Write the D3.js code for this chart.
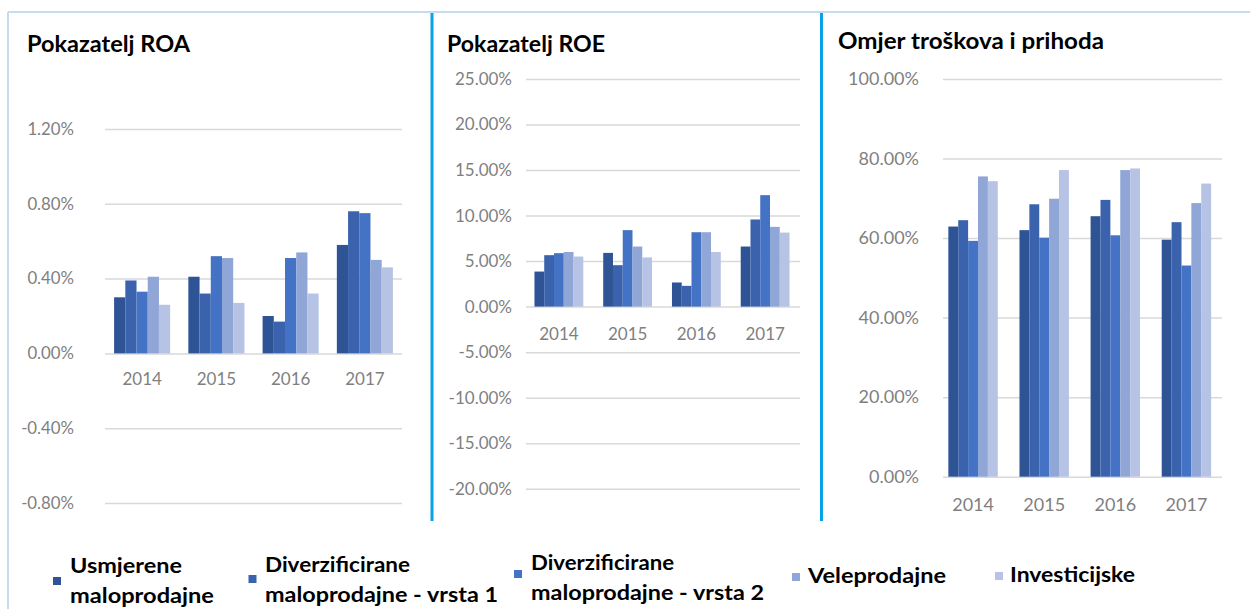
<!DOCTYPE html>
<html>
<head>
<meta charset="utf-8">
<script src="https://cdn.jsdelivr.net/npm/d3@7"></script>
<style>
  html, body { margin: 0; padding: 0; background: #fff; }
  svg { display: block; font-family: Lato, "Open Sans", sans-serif; }
  .tick text { fill: #7f7f7f; }
</style>
</head>
<body>
<svg id="chart" width="1250" height="609"></svg>
<script>
// ---------- DATA ----------
const years = ["2014", "2015", "2016", "2017"];
const seriesNames = [
  "Usmjerene maloprodajne",
  "Diverzificirane maloprodajne - vrsta 1",
  "Diverzificirane maloprodajne - vrsta 2",
  "Veleprodajne",
  "Investicijske"
];
const legendLines = [
  ["Usmjerene", "maloprodajne"],
  ["Diverzificirane", "maloprodajne - vrsta 1"],
  ["Diverzificirane", "maloprodajne - vrsta 2"],
  ["Veleprodajne"],
  ["Investicijske"]
];
const chartTitles = ["Pokazatelj ROA", "Pokazatelj ROE", "Omjer troškova i prihoda"];

// values in percent, one row per series, one column per year
const roaValues = [
  [0.30, 0.41, 0.20, 0.58],
  [0.39, 0.32, 0.17, 0.76],
  [0.33, 0.52, 0.51, 0.75],
  [0.41, 0.51, 0.54, 0.50],
  [0.26, 0.27, 0.32, 0.46]
];
const roeValues = [
  [3.85, 5.90, 2.65, 6.60],
  [5.65, 4.55, 2.28, 9.57],
  [5.87, 8.40, 8.17, 12.24],
  [6.00, 6.60, 8.17, 8.76],
  [5.50, 5.40, 6.00, 8.13]
];
const costValues = [
  [62.9, 62.0, 65.5, 59.6],
  [64.5, 68.5, 69.6, 64.0],
  [59.3, 60.1, 60.7, 53.1],
  [75.5, 69.9, 77.1, 68.8],
  [74.3, 77.1, 77.5, 73.7]
];
const roaTicks = [-0.8, -0.4, 0, 0.4, 0.8, 1.2];
const roeTicks = [-20, -15, -10, -5, 0, 5, 10, 15, 20, 25];
const costTicks = [0, 20, 40, 60, 80, 100];

// ---------- STYLE ----------
const colors = ["#2f5496", "#3a62ad", "#4472c4", "#8fa6d7", "#b7c3e4"];

const svg = d3.select("#chart");

// frame
svg.append("line").attr("x1", 8).attr("x2", 1250).attr("y1", 12).attr("y2", 12)
  .attr("stroke", "#c6daf2").attr("stroke-width", 2);
svg.append("line").attr("x1", 8).attr("x2", 8).attr("y1", 12).attr("y2", 609)
  .attr("stroke", "#c6daf2").attr("stroke-width", 2);
[432, 821.5].forEach(x => {
  svg.append("line").attr("x1", x).attr("x2", x).attr("y1", 13).attr("y2", 521)
    .attr("stroke", "#0aa2e6").attr("stroke-width", 3);
});

const fmt = v => v.toFixed(2) + "%";

const charts = [
  { title: chartTitles[0], tx: 27, ty: 52, tw: 163, values: roaValues, ticks: roaTicks,
    domain: [-0.8, 1.2], yRange: [503, 129], gx: [105, 402], xr: [105, 402], pad: 0.245,
    labelPad: 31, fs: 16.8, catY: 379, catFs: 17 },
  { title: chartTitles[1], tx: 447, ty: 52, tw: 158, values: roeValues, ticks: roeTicks,
    domain: [-20, 25], yRange: [488.7, 79], gx: [526, 800], xr: [524.5, 799.5], pad: 0.29,
    labelPad: 14, fs: 17, catY: 334, catFs: 17 },
  { title: chartTitles[2], tx: 838, ty: 49, tw: 266, values: costValues, ticks: costTicks,
    domain: [0, 100], yRange: [476.7, 79], gx: [943, 1222], xr: [937.5, 1222], pad: 0.305,
    labelPad: 24, fs: 18, catY: 505, catFs: 18 }
];

charts.forEach(c => {
  const g = svg.append("g");
  g.append("text").attr("x", c.tx).attr("y", c.ty)
    .attr("font-size", 23).attr("font-weight", 700).attr("fill", "#000")
    .attr("textLength", c.tw).attr("lengthAdjust", "spacingAndGlyphs")
    .text(c.title);

  const y = d3.scaleLinear().domain(c.domain).range(c.yRange);
  const x0 = d3.scaleBand().domain(years).range(c.xr).paddingInner(c.pad).paddingOuter(c.pad / 2);
  const x1 = d3.scaleBand().domain(d3.range(seriesNames.length)).range([0, x0.bandwidth()]);

  const yAxis = d3.axisLeft(y).tickValues(c.ticks).tickFormat(fmt)
    .tickSize(-(c.gx[1] - c.gx[0])).tickPadding(c.labelPad);
  const ya = g.append("g").attr("transform", `translate(${c.gx[0]},0)`).call(yAxis);
  ya.select(".domain").remove();
  ya.selectAll(".tick line").attr("stroke", "#d9d9d9").attr("stroke-width", 1.5);
  ya.selectAll(".tick text").attr("font-size", c.fs).attr("fill", "#7f7f7f")
    .attr("font-family", "Lato, sans-serif");

  // bars
  c.values.forEach((row, si) => {
    g.append("g").selectAll("rect").data(row).join("rect")
      .attr("x", (d, i) => x0(years[i]) + x1(si))
      .attr("width", x1.bandwidth())
      .attr("y", d => y(Math.max(0, d)))
      .attr("height", d => Math.abs(y(d) - y(0)))
      .attr("fill", colors[si]);
  });

  // category axis
  const xAxis = d3.axisBottom(x0).tickSize(0).tickPadding(0);
  const xa = g.append("g").attr("transform", `translate(0,${c.catY})`).call(xAxis);
  xa.select(".domain").remove();
  xa.selectAll(".tick text").attr("font-size", c.catFs).attr("fill", "#7f7f7f")
    .attr("dy", "0.35em").attr("font-family", "Lato, sans-serif");
});

// legend
const legendLayout = [
  { mx: 53, my: 577, tx: 70, ty: [573, 603], tw: [112, 144] },
  { mx: 248.5, my: 575, tx: 265, ty: [572, 602], tw: [145, 233] },
  { mx: 514, my: 570, tx: 531, ty: [570, 600], tw: [143, 233] },
  { mx: 792, my: 573, tx: 808, ty: [583], tw: [138] },
  { mx: 995, my: 572, tx: 1010, ty: [582], tw: [125] }
];
const lg = svg.append("g");
legendLines.forEach((lines, i) => {
  const L = legendLayout[i];
  lg.append("rect").attr("x", L.mx).attr("y", L.my).attr("width", 8).attr("height", 8)
    .attr("fill", colors[i]);
  lines.forEach((t, j) => {
    lg.append("text").attr("x", L.tx).attr("y", L.ty[j])
      .attr("font-size", 21.5).attr("font-weight", 700).attr("fill", "#000")
      .attr("textLength", L.tw[j]).attr("lengthAdjust", "spacingAndGlyphs")
      .text(t);
  });
});
</script>
</body>
</html>
